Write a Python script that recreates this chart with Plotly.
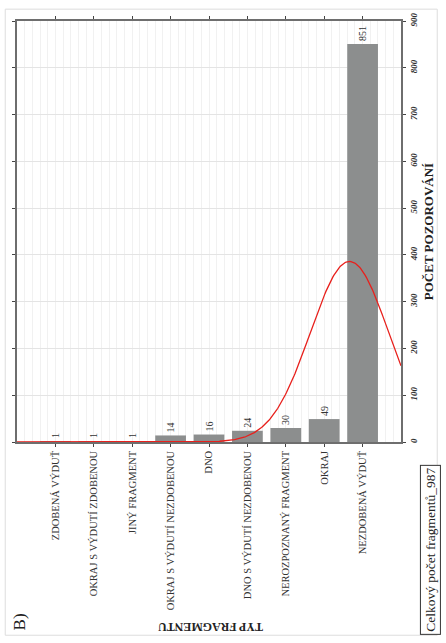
import numpy as np
import plotly.graph_objects as go

# Fragment types and their observed counts
categories = [
    "ZDOBENÁ VÝDUŤ",
    "OKRAJ S VÝDUTÍ ZDOBENOU",
    "JINÝ FRAGMENT",
    "OKRAJ S VÝDUTÍ NEZDOBENOU",
    "DNO",
    "DNO S VÝDUTÍ NEZDOBENOU",
    "NEROZPOZNANÝ FRAGMENT",
    "OKRAJ",
    "NEZDOBENÁ VÝDUŤ",
]
counts = [1, 1, 1, 14, 16, 24, 30, 49, 851]
y_ticks = [0, 100, 200, 300, 400, 500, 600, 700, 800, 900]

W, H = 446, 643
L, R, T, B = 15, 39, 15, 201
plot_w = W - L - R
plot_h = H - T - B


def px(xp):
    return (xp - L) / plot_w


def py(yp):
    return (H - B - yp) / plot_h


serif = "Liberation Serif, Times New Roman, serif"
idx = np.arange(len(categories))
n = np.array(counts, dtype=float)
total = int(n.sum())

# Normal curve fitted to the category index distribution
mean = (idx * n).sum() / n.sum()
sd = np.sqrt(((idx - mean) ** 2 * n).sum() / (n.sum() - 1))
xs = np.linspace(-1, 9, 400)
ys = n.sum() / (sd * np.sqrt(2 * np.pi)) * np.exp(-0.5 * ((xs - mean) / sd) ** 2)

fig = go.Figure()
fig.add_trace(go.Bar(
    x=idx, y=counts, width=0.8,
    marker=dict(color="#8c8e8e", line=dict(width=0)),
    text=[str(c) for c in counts], textposition="outside", textangle=-90,
    textfont=dict(family=serif, size=10, color="#333333"),
    cliponaxis=False,
))
fig.add_trace(go.Scatter(
    x=xs, y=ys, mode="lines",
    line=dict(color="#e8201c", width=1.3),
    hoverinfo="skip",
))

fig.update_layout(
    width=W, height=H,
    margin=dict(l=L, r=R, t=T, b=B),
    paper_bgcolor="white", plot_bgcolor="white",
    showlegend=False,
    bargap=0.2,
    xaxis=dict(
        range=[-1, 9],
        tickmode="array", tickvals=list(idx), ticktext=categories,
        tickangle=-90,
        tickfont=dict(family=serif, size=10.5, color="#333333"),
        ticks="outside", ticklen=3, tickcolor="#444444",
        showline=True, linecolor="#6e6e6e", linewidth=1.5, mirror="allticks",
        showgrid=False, zeroline=False,
        minor=dict(dtick=0.2, showgrid=True, gridcolor="#f1f1f1", gridwidth=1),
    ),
    yaxis=dict(
        range=[0, 900], side="right",
        tickmode="array", tickvals=y_ticks,
        tickangle=-90,
        tickfont=dict(family=serif, size=9, color="#333333", weight="bold", style="italic"),
        ticks="outside", ticklen=3, tickcolor="#444444",
        showline=True, linecolor="#6e6e6e", linewidth=1.5, mirror="allticks",
        showgrid=True, gridcolor="#e4e4e4", gridwidth=1, zeroline=False,
        title=dict(text="<b>POČET POZOROVÁNÍ</b>",
                   font=dict(family=serif, size=13, color="#222222"), standoff=6),
    ),
)

fig.add_annotation(
    text="<b>TYP FRAGMENTU</b>", xref="paper", yref="paper",
    x=px(212), y=py(629), xanchor="center", yanchor="middle",
    textangle=180, showarrow=False,
    font=dict(family=serif, size=12, color="#222222"),
)
fig.add_annotation(
    text="B)", xref="paper", yref="paper",
    x=px(18), y=py(624), xanchor="center", yanchor="middle",
    textangle=-90, showarrow=False,
    font=dict(family=serif, size=17, color="#222222"),
)
fig.add_annotation(
    text=f"Celkový počet fragmentů_{total}", xref="paper", yref="paper",
    x=px(437), y=py(551), xanchor="center", yanchor="middle",
    textangle=-90, showarrow=False,
    font=dict(family=serif, size=13.5, color="#222222"),
    bordercolor="#333333", borderwidth=1, borderpad=2, bgcolor="white",
)
# light outer frame
fig.add_shape(
    type="rect", xref="paper", yref="paper",
    x0=px(3), x1=px(444), y0=py(638), y1=py(3),
    line=dict(color="#dddddd", width=1), layer="below",
)

fig.write_html("out.html")
